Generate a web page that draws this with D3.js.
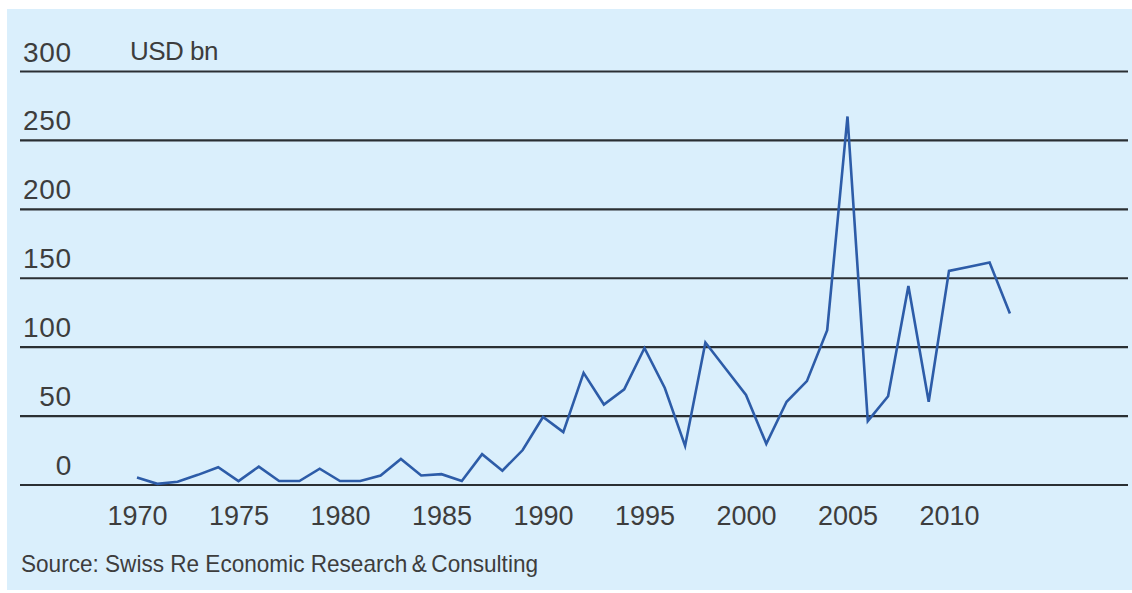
<!DOCTYPE html>
<html>
<head>
<meta charset="utf-8">
<script src="https://cdn.jsdelivr.net/npm/d3@7"></script>
<style>
  html, body { margin: 0; padding: 0; background: #ffffff; }
  svg { display: block; }
  text { font-family: "Liberation Sans", Arial, sans-serif; fill: #3d3d3d; }
</style>
</head>
<body>
<svg id="chart" width="1132" height="593"></svg>
<script>
// Annual insured losses, USD bn
const years = d3.range(1970, 2014);
const losses = [
  5, 0.5, 2, 7, 12.5, 2.5, 13, 2.5, 2.5, 11.5,
  2.5, 2.5, 6.5, 18.5, 6.5, 7.5, 2.5, 22, 10, 25,
  49, 38, 81, 58, 69, 99, 70, 28, 103, 84,
  65, 29.5, 60, 75, 112, 267, 46, 64, 144, 60,
  155, 158, 161, 124
];
const yTicks = [0, 50, 100, 150, 200, 250, 300];
const xTicks = [1970, 1975, 1980, 1985, 1990, 1995, 2000, 2005, 2010];
const unitLabel = "USD bn";
const sourceLabel = "Source: Swiss Re Economic Research\u2009&\u2009Consulting";

const svg = d3.select("#chart");

// light blue panel
svg.append("rect")
  .attr("x", 7).attr("y", 9)
  .attr("width", 1125).attr("height", 581)
  .attr("fill", "#daeffc");

const x = d3.scaleLinear().domain([1970, 2010]).range([137, 949]);
const y = d3.scaleLinear().domain([0, 300]).range([484.5, 71]);

// horizontal gridlines with value labels sitting above them
const yAxis = d3.axisLeft(y).tickValues(yTicks).tickSize(0).tickPadding(0);
const gy = svg.append("g").call(yAxis);
gy.select(".domain").remove();
gy.selectAll(".tick line")
  .attr("x1", 20).attr("x2", 1128)
  .attr("stroke", "#2a2f33").attr("stroke-width", 2.2);
gy.selectAll(".tick text")
  .attr("x", 72).attr("dy", null).attr("y", -10)
  .attr("text-anchor", "end")
  .style("font-size", "28px")
  .style("letter-spacing", "0.8px")
  .style("font-family", "'Liberation Sans', Arial, sans-serif")
  .attr("fill", "#3d3d3d");

svg.append("text")
  .attr("x", 130).attr("y", y(300) - 11)
  .style("font-size", "26px")
  .style("letter-spacing", "-0.5px")
  .text(unitLabel);

// year labels
const xAxis = d3.axisBottom(x).tickValues(xTicks).tickFormat(d3.format("d")).tickSize(0).tickPadding(0);
const gx = svg.append("g").attr("transform", "translate(0,525)").call(xAxis);
gx.select(".domain").remove();
gx.selectAll(".tick text")
  .attr("dy", null).attr("y", 0)
  .style("font-size", "27px")
  .style("font-family", "'Liberation Sans', Arial, sans-serif")
  .attr("fill", "#3d3d3d");

// loss series
const line = d3.line()
  .x((d, i) => x(years[i]))
  .y(d => y(d));

svg.append("path")
  .datum(losses)
  .attr("d", line)
  .attr("fill", "none")
  .attr("stroke", "#2d5ca8")
  .attr("stroke-width", 2.6)
  .attr("stroke-linejoin", "miter");

svg.append("text")
  .attr("x", 21).attr("y", 572)
  .style("font-size", "24px")
  .attr("textLength", 517)
  .attr("lengthAdjust", "spacingAndGlyphs")
  .text(sourceLabel);
</script>
</body>
</html>
